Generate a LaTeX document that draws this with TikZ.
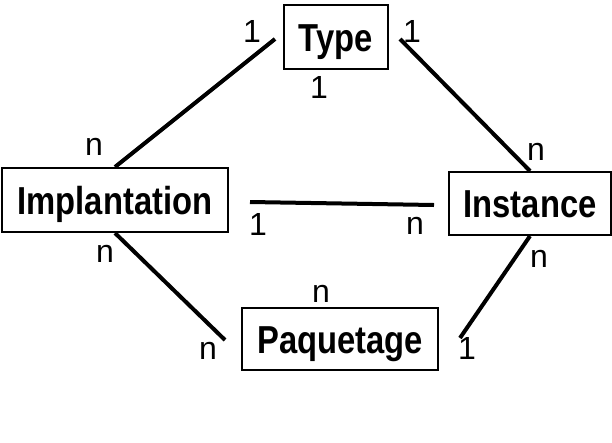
\documentclass[tikz,border=0pt]{standalone}
\usepackage{fontspec}
\setmainfont{Liberation Sans}
\newfontfamily\boxfont{Liberation Sans}[FakeStretch=0.84]
\begin{document}
\begin{tikzpicture}[x=1pt,y=-1pt,
  entity/.style={draw, line width=2pt, inner sep=0pt, font=\boxfont\bfseries\fontsize{39}{39}\selectfont, text height=28pt, text depth=0pt},
  card/.style={inner sep=0pt, font=\fontsize{32}{32}\selectfont},
  rel/.style={line width=4pt}]
\useasboundingbox (0,0) rectangle (612,442);
\fill[white] (0,0) rectangle (612,442);
% entities
\node[entity, minimum width=104pt, minimum height=64pt] (type) at (336,37) {Type};
\node[entity, minimum width=226pt, minimum height=64pt] (impl) at (115,200) {Implantation};
\node[entity, minimum width=162pt, minimum height=63pt] (inst) at (530,203.5) {Instance};
\node[entity, minimum width=196pt, minimum height=62pt] (paq) at (340,339) {Paquetage};
% free ends
\coordinate (c1) at (275,39);
\coordinate (c2) at (400,39);
\coordinate (c3) at (225,340);
\coordinate (c4) at (460,338);
\coordinate (c5) at (250,202);
\coordinate (c6) at (434,205);
% connectors
\draw[rel] (impl.north) -- (c1);
\draw[rel] (c2) -- (inst.north);
\draw[rel] (impl.south) -- (c3);
\draw[rel] (inst.south) -- (c4);
\draw[rel] (c5) -- (c6);
% cardinalities
\node[card] (k1) at (252,31) {1};
\node[card] (k2) at (412,31) {1};
\node[card] (k3) at (319,87) {1};
\node[card] (k4) at (94,147) {n};
\node[card] (k5) at (105,254) {n};
\node[card] (k6) at (536,152) {n};
\node[card] (k7) at (539,259) {n};
\node[card] (k8) at (258,224) {1};
\node[card] (k9) at (415,226) {n};
\node[card] (k10) at (321,294) {n};
\node[card] (k11) at (208,351) {n};
\node[card] (k12) at (467,348) {1};
\end{tikzpicture}
\end{document}
